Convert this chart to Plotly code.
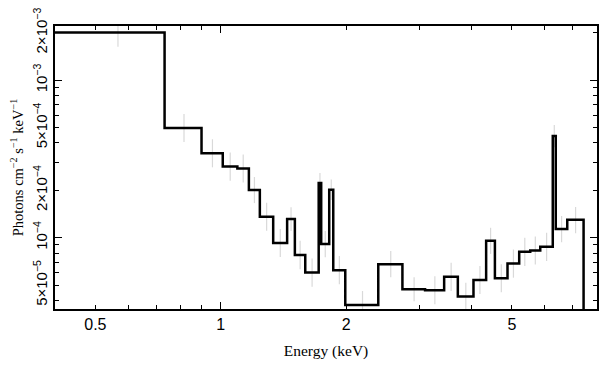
import numpy as np
import plotly.graph_objects as go

# Bin edges (keV)
bin_edges = [0.40, 0.733, 0.899, 1.011, 1.096, 1.168, 1.241, 1.336, 1.443, 1.506,
             1.595, 1.718, 1.742, 1.821, 1.862, 1.99, 2.388, 2.729, 3.093, 3.437,
             3.707, 4.042, 4.335, 4.550, 4.878, 5.204, 5.531, 5.846, 6.265, 6.370,
             6.787, 7.428]
# Flux per bin (photons cm^-2 s^-1 keV^-1)
flux = [2.01e-3, 4.97e-4, 3.44e-4, 2.83e-4, 2.75e-4, 2.01e-4, 1.36e-4, 9.25e-5,
        1.315e-4, 7.76e-5, 6.01e-5, 2.23e-4, 9.12e-5, 2.02e-4, 6.23e-5, 3.74e-5,
        6.80e-5, 4.71e-5, 4.64e-5, 5.65e-5, 4.23e-5, 5.40e-5, 9.57e-5, 5.54e-5,
        6.86e-5, 8.14e-5, 8.30e-5, 8.76e-5, 4.42e-4, 1.136e-4, 1.30e-4]
err_up = [4.6e-4, 1.13e-4, 7.8e-5, 6.5e-5, 6.3e-5, 4.2e-5, 3.1e-5, 2.1e-5,
          2.5e-5, 1.8e-5, 1.37e-5, 3.5e-5, 1.9e-5, 3.2e-5, 1.42e-5, 0.85e-5,
          1.43e-5, 0.9e-5, 1.06e-5, 1.29e-5, 0.96e-5, 1.23e-5, 2.0e-5, 1.26e-5,
          1.56e-5, 1.86e-5, 1.9e-5, 2.0e-5, 7.7e-5, 2.4e-5, 2.7e-5]
err_dn = [3.8e-4, 0.92e-4, 6.4e-5, 5.3e-5, 5.1e-5, 3.5e-5, 2.5e-5, 1.7e-5,
          2.1e-5, 1.45e-5, 1.12e-5, 3.1e-5, 1.6e-5, 2.8e-5, 1.16e-5, 0.70e-5,
          1.18e-5, 0.76e-5, 0.86e-5, 1.05e-5, 0.79e-5, 1.0e-5, 1.67e-5, 1.03e-5,
          1.28e-5, 1.51e-5, 1.54e-5, 1.63e-5, 6.6e-5, 2.0e-5, 2.3e-5]

x_ticks = [0.5, 1, 2, 5]
x_ticktext = ["0.5", "1", "2", "5"]
x_minor = [0.6, 0.7, 0.8, 0.9, 3, 4, 6, 7, 8]
y_ticks = [5e-5, 1e-4, 2e-4, 5e-4, 1e-3, 2e-3]
y_ticktext = ["5×10<sup>−5</sup>", "10<sup>−4</sup>", "2×10<sup>−4</sup>",
              "5×10<sup>−4</sup>", "10<sup>−3</sup>", "2×10<sup>−3</sup>"]
y_minor = [4e-5, 6e-5, 7e-5, 8e-5, 9e-5, 3e-4, 4e-4, 6e-4, 7e-4, 8e-4, 9e-4]

edges = np.array(bin_edges)
centers = 0.5 * (edges[:-1] + edges[1:])

fig = go.Figure()

# error bars (light grey)
fig.add_trace(go.Scatter(
    x=centers, y=flux, mode="markers",
    marker=dict(size=0.1, color="rgba(0,0,0,0)"),
    error_y=dict(type="data", symmetric=False, array=err_up, arrayminus=err_dn,
                 color="#d9d9d9", thickness=1.2, width=0),
    showlegend=False, hoverinfo="skip"))

# step histogram
step_x = list(edges) + [edges[-1]]
step_y = list(flux) + [flux[-1], 1e-7]
fig.add_trace(go.Scatter(
    x=step_x, y=step_y, mode="lines", line=dict(shape="hv", color="black", width=2.5),
    showlegend=False, hoverinfo="skip"))

# dummy trace for overlay axes (longer decade ticks)
fig.add_trace(go.Scatter(x=[None], y=[None], xaxis="x2", yaxis="y2",
                         showlegend=False, hoverinfo="skip"))

xr = [np.log10(0.4), np.log10(8.0)]
yr = [np.log10(3.53e-5), np.log10(2.21e-3)]

xtickfont = dict(family="Liberation Sans, Arial, sans-serif", size=16, color="black")
ytickfont = dict(family="Liberation Sans, Arial, sans-serif", size=15, color="black")
titlefont = dict(family="Liberation Serif, Times New Roman, serif", size=15.5, color="black")

# page body has an 8px default margin; compensate so the plot area lands at 55..597 x 26..309
fig.update_layout(
    width=600, height=364,
    margin=dict(l=47, r=11, t=18, b=63),
    paper_bgcolor="white", plot_bgcolor="white",
    xaxis=dict(type="log", range=xr, showgrid=False, zeroline=False, automargin=False,
               showline=True, linecolor="black", linewidth=2, mirror="ticks",
               ticks="inside", ticklen=4, tickwidth=1, tickcolor="black",
               tickvals=x_ticks, ticktext=x_ticktext, tickfont=xtickfont,
               ticklabeloverflow="allow",
               minor=dict(tickvals=x_minor, ticks="inside", ticklen=4, tickcolor="black", showgrid=False),
               title=dict(text="Energy (keV)", font=titlefont, standoff=13)),
    yaxis=dict(type="log", range=yr, showgrid=False, zeroline=False, automargin=False,
               showline=True, linecolor="black", linewidth=2, mirror="ticks",
               ticks="inside", ticklen=4, tickwidth=1, tickcolor="black",
               tickvals=y_ticks, ticktext=y_ticktext, tickfont=ytickfont, tickangle=-90,
               ticklabeloverflow="allow",
               minor=dict(tickvals=y_minor, ticks="inside", ticklen=4, tickcolor="black", showgrid=False),
               title=dict(text="Photons cm<sup>−2</sup> s<sup>−1</sup> keV<sup>−1</sup>",
                          font=dict(family="Liberation Serif, Times New Roman, serif", size=14.5, color="black"),
                          standoff=5)),
    xaxis2=dict(type="log", range=xr, overlaying="x", side="bottom", showgrid=False,
                zeroline=False, showline=False, mirror="ticks", ticks="inside", ticklen=7,
                tickcolor="black", tickvals=[1], showticklabels=False, automargin=False),
    yaxis2=dict(type="log", range=yr, overlaying="y", side="left", showgrid=False,
                zeroline=False, showline=False, mirror="ticks", ticks="inside", ticklen=7,
                tickcolor="black", tickvals=[1e-4, 1e-3], showticklabels=False, automargin=False),
)

fig.write_html("out.html")
